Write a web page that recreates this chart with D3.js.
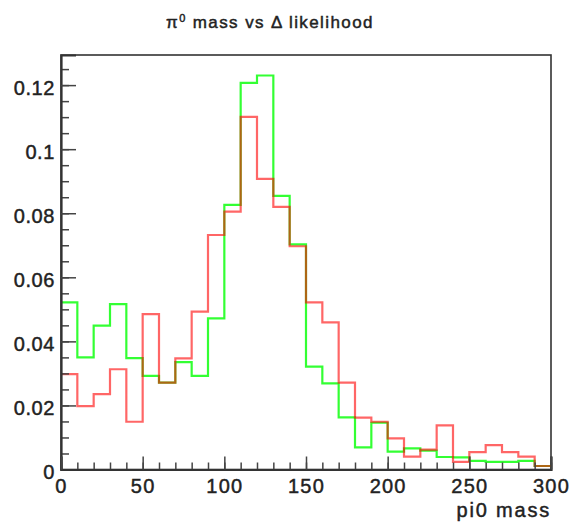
<!DOCTYPE html>
<html>
<head>
<meta charset="utf-8">
<script src="https://cdn.jsdelivr.net/npm/d3@7"></script>
<style>
  html, body { margin: 0; padding: 0; background: #fff; }
  svg { display: block; }
  text { font-family: "Liberation Sans", Arial, sans-serif; fill: #222; stroke: #222; stroke-width: 0.45px; }
</style>
</head>
<body>
<div id="chart"></div>
<script>
// pi0 invariant mass, 30 bins of 10 MeV from 0 to 300, normalised counts
const binEdges = d3.range(0, 301, 10);
const greenValues = [
  0.0522, 0.0350, 0.0449, 0.0516, 0.0348, 0.0292, 0.0271, 0.0335, 0.0292, 0.0472,
  0.0826, 0.1207, 0.1230, 0.0854, 0.0703, 0.0321, 0.0269, 0.0163, 0.0069, 0.0146,
  0.0056, 0.0066, 0.0059, 0.0039, 0.0038, 0.0027, 0.0024, 0.0024, 0.0027, 0.0011
];
const redValues = [
  0.0298, 0.0198, 0.0235, 0.0313, 0.0149, 0.0485, 0.0271, 0.0347, 0.0493, 0.0732,
  0.0805, 0.1101, 0.0907, 0.0820, 0.0697, 0.0522, 0.0459, 0.0271, 0.0162, 0.0149,
  0.0097, 0.0040, 0.0062, 0.0138, 0.0024, 0.0054, 0.0076, 0.0054, 0.0040, 0.0011
];
const xTicks = [0, 50, 100, 150, 200, 250, 300];
const yTicks = [0, 0.02, 0.04, 0.06, 0.08, 0.1, 0.12];
const yTickLabels = ["0", "0.02", "0.04", "0.06", "0.08", "0.1", "0.12"];
const titleText = "mass vs \u0394 likelihood";
const xAxisTitle = "pi0 mass";

const W = 575, H = 523;
const frame = { left: 61, right: 551, top: 55, bottom: 469.5 };

const svg = d3.select("#chart").append("svg")
  .attr("width", W).attr("height", H);

const x = d3.scaleLinear().domain([0, 300]).range([frame.left, frame.right]);
const y = d3.scaleLinear().domain([0, 0.1294]).range([frame.bottom, frame.top]);

// frame
svg.append("rect")
  .attr("x", frame.left).attr("y", frame.top)
  .attr("width", frame.right - frame.left)
  .attr("height", frame.bottom - frame.top)
  .attr("fill", "none").attr("stroke", "#333").attr("stroke-width", 1.6);

// histograms drawn as outlined steps
function stepPoints(values) {
  const pts = values.map((v, i) => [binEdges[i], v]);
  pts.push([binEdges[binEdges.length - 1], values[values.length - 1]]);
  return pts;
}
const stepLine = d3.line()
  .x(d => x(d[0])).y(d => y(d[1]))
  .curve(d3.curveStepAfter);

svg.append("path")
  .datum(stepPoints(greenValues))
  .attr("d", stepLine)
  .attr("fill", "none")
  .attr("stroke", "#00ff00").attr("stroke-opacity", 0.8)
  .attr("stroke-width", 2.2);

svg.append("path")
  .datum(stepPoints(redValues))
  .attr("d", stepLine)
  .attr("fill", "none")
  .attr("stroke", "#ff0000").attr("stroke-opacity", 0.6)
  .attr("stroke-width", 2.2);

// y axis: major and minor ticks pointing into the frame
const yMinor = d3.range(0, 0.1291, 0.005);
svg.append("g")
  .attr("transform", `translate(${frame.left},0)`)
  .call(d3.axisLeft(y).tickValues(yMinor).tickSize(-8).tickFormat(""))
  .call(g => g.select(".domain").remove())
  .call(g => g.selectAll("line").attr("stroke", "#444").attr("stroke-width", 1.5));

const yAxis = svg.append("g")
  .attr("transform", `translate(${frame.left},0)`)
  .call(d3.axisLeft(y).tickValues(yTicks).tickSize(-15).tickPadding(6)
    .tickFormat((d, i) => yTickLabels[i]));
yAxis.select(".domain").attr("stroke", "#333").attr("stroke-width", 2.2);
yAxis.selectAll("line").attr("stroke", "#444").attr("stroke-width", 1.5);
yAxis.selectAll("text")
  .style("font-size", "20px").style("letter-spacing", "0.6px")
  .attr("dy", "0.45em").attr("fill", "#222");

// x axis
const xMinor = d3.range(0, 301, 10);
svg.append("g")
  .attr("transform", `translate(0,${frame.bottom})`)
  .call(d3.axisBottom(x).tickValues(xMinor).tickSize(-7).tickFormat(""))
  .call(g => g.select(".domain").remove())
  .call(g => g.selectAll("line").attr("stroke", "#444").attr("stroke-width", 1.5));

const xAxis = svg.append("g")
  .attr("transform", `translate(0,${frame.bottom})`)
  .call(d3.axisBottom(x).tickValues(xTicks).tickSize(-13).tickPadding(9)
    .tickFormat(d3.format("d")));
xAxis.select(".domain").attr("stroke", "#333").attr("stroke-width", 2.2);
xAxis.selectAll("line").attr("stroke", "#444").attr("stroke-width", 1.5);
xAxis.selectAll("text")
  .style("font-size", "20px").style("letter-spacing", "1.2px")
  .attr("fill", "#222");

// axis title
svg.append("text")
  .attr("x", frame.right).attr("y", 517)
  .attr("text-anchor", "end")
  .style("font-size", "20px").style("letter-spacing", "1.8px")
  .text(xAxisTitle);

// plot title with pi-zero symbol
const title = svg.append("text")
  .attr("x", 166).attr("y", 28)
  .style("font-size", "17px").style("letter-spacing", "1.4px");
title.append("tspan").text("\u03c0");
title.append("tspan").attr("dy", -6).style("font-size", "11px").text("0");
title.append("tspan").attr("dy", 6).text(" " + titleText);
</script>
</body>
</html>
